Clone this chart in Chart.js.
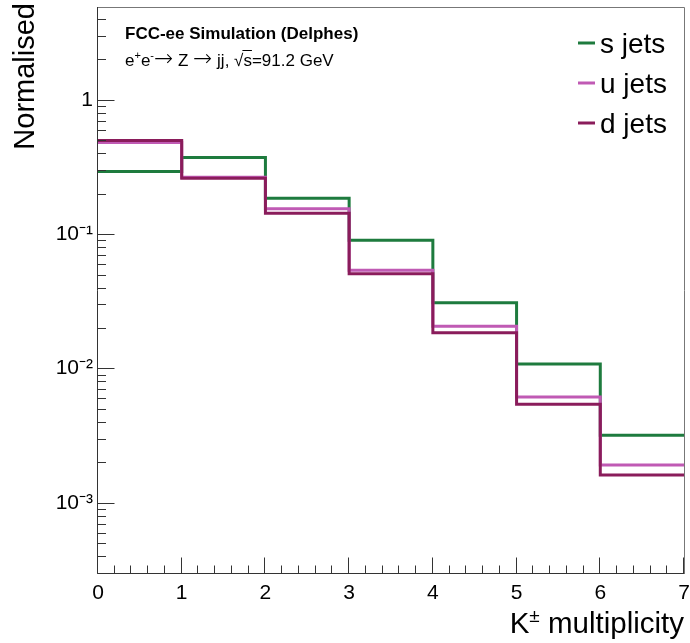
<!DOCTYPE html>
<html>
<head>
<meta charset="utf-8">
<script src="https://cdn.jsdelivr.net/npm/chart.js@4.4.1/dist/chart.umd.min.js"></script>
<style>
  body { margin: 0; background: #fff; }
  canvas { display: block; }
</style>
</head>
<body>
<canvas id="kaon-chart" width="690" height="643"></canvas>
<script>
// bin edges of the K± multiplicity histogram, one value per bin below
const binEdges = [0, 1, 2, 3, 4, 5, 6, 7];
const sJets = [0.292, 0.372, 0.185, 0.090, 0.0308, 0.0108, 0.00318];
const uJets = [0.480, 0.265, 0.154, 0.0537, 0.0206, 0.00612, 0.00191];
const dJets = [0.498, 0.260, 0.143, 0.0506, 0.0184, 0.0054, 0.00161];
const seriesNames = ['s jets', 'u jets', 'd jets'];
const seriesColors = ['#1e7b3e', '#c05ab4', '#8a1c5b'];
const yMin = 3.1e-4;
const yMax = 4.9;

const FONT = "'Liberation Sans', Arial, Helvetica, sans-serif";
const ARROW_FONT = "'DejaVu Sans ExtraLight', 'DejaVu Sans', sans-serif";
const canvas = document.getElementById('kaon-chart');

// histogram -> stepped points, last bin repeated at the right edge
function toSteps(values) {
  const pts = values.map((v, i) => ({ x: binEdges[i], y: v }));
  pts.push({ x: binEdges[binEdges.length - 1], y: values[values.length - 1] });
  return pts;
}

function supLabel(v) {
  const e = Math.round(Math.log10(v));
  if (Math.abs(Math.log10(v) - e) > 1e-6) return '';
  if (e === 0) return '1';
  const sup = { '-': '\u207B', '0': '\u2070', '1': '\u00B9', '2': '\u00B2', '3': '\u00B3', '4': '\u2074' };
  return '10' + String(e).split('').map(c => sup[c]).join('');
}

// text with raised / smaller pieces
function drawPieces(ctx, pieces, x, y, align) {
  let total = 0;
  pieces.forEach(p => { ctx.font = p.font; p.w = ctx.measureText(p.text).width; total += p.w; });
  let cx = align === 'right' ? x - total : x;
  pieces.forEach(p => {
    ctx.font = p.font;
    ctx.fillText(p.text, cx, y - (p.rise || 0));
    p.x = cx;
    cx += p.w;
  });
  return pieces;
}

const decorations = {
  id: 'decorations',
  afterDraw(chart) {
    const { ctx, chartArea: a, scales: { x, y } } = chart;
    ctx.save();

    // frame
    ctx.lineWidth = 1;
    ctx.strokeStyle = '#777';
    ctx.beginPath();
    ctx.moveTo(a.left - 0.5, a.top + 0.5);
    ctx.lineTo(a.right + 0.5, a.top + 0.5);
    ctx.lineTo(a.right + 0.5, a.bottom + 0.5);
    ctx.stroke();
    ctx.strokeStyle = '#333';
    ctx.beginPath();
    ctx.moveTo(a.left - 0.5, a.top);
    ctx.lineTo(a.left - 0.5, a.bottom + 0.5);
    ctx.lineTo(a.right + 0.5, a.bottom + 0.5);
    ctx.stroke();

    // inward ticks on the log axis
    ctx.beginPath();
    for (let e = -4; e <= 0; e++) {
      for (let m = 1; m <= 9; m++) {
        const v = m * Math.pow(10, e);
        if (v < y.min || v > y.max) continue;
        const py = Math.round(y.getPixelForValue(v)) + 0.5;
        const len = m === 1 ? 17 : 8.5;
        ctx.moveTo(a.left - 0.5, py);
        ctx.lineTo(a.left - 0.5 + len, py);
      }
    }
    // inward ticks on x, five minor divisions per unit
    for (let i = 0; i <= 35; i++) {
      const px = Math.round(x.getPixelForValue(i / 5)) - 0.5;
      const len = i % 5 === 0 ? 16 : 8;
      ctx.moveTo(px, a.bottom + 0.5);
      ctx.lineTo(px, a.bottom + 0.5 - len);
    }
    ctx.stroke();

    ctx.fillStyle = '#000';
    ctx.textBaseline = 'alphabetic';
    ctx.textAlign = 'left';

    // axis titles
    drawPieces(ctx, [
      { text: 'K', font: `29.5px ${FONT}` },
      { text: '\u00B1', font: `19px ${FONT}`, rise: 11 },
      { text: ' multiplicity', font: `29.5px ${FONT}` }
    ], a.right, 633, 'right');

    ctx.save();
    ctx.translate(34, 3);
    ctx.rotate(-Math.PI / 2);
    ctx.textAlign = 'right';
    ctx.font = `29px ${FONT}`;
    ctx.fillText('Normalised', 0, 0);
    ctx.restore();

    // labels inside the frame
    ctx.font = `bold 17px ${FONT}`;
    ctx.fillText('FCC-ee Simulation (Delphes)', 125, 39);
    const big = `17px ${FONT}`;
    const small = `11px ${FONT}`;
    const arrow = `200 23px ${ARROW_FONT}`;
    const parts = drawPieces(ctx, [
      { text: 'e', font: big },
      { text: '+', font: small, rise: 7 },
      { text: 'e', font: big },
      { text: '-', font: small, rise: 7 },
      { text: '\u2192', font: arrow, rise: 0 },
      { text: ' Z ', font: big },
      { text: '\u2192', font: arrow, rise: 0 },
      { text: ' jj, \u221A', font: big },
      { text: 's', font: big },
      { text: '=91.2 GeV', font: big }
    ], 125, 66, 'left');
    const sPart = parts[8];
    ctx.lineWidth = 1;
    ctx.strokeStyle = '#000';
    ctx.beginPath();
    ctx.moveTo(sPart.x - 1, 50.5);
    ctx.lineTo(sPart.x + sPart.w, 50.5);
    ctx.stroke();

    // legend
    ctx.font = `28px ${FONT}`;
    seriesNames.forEach((name, i) => {
      const base = 53 + i * 40;
      ctx.strokeStyle = seriesColors[i];
      ctx.lineWidth = 3;
      ctx.beginPath();
      ctx.moveTo(578, base - 10);
      ctx.lineTo(595, base - 10);
      ctx.stroke();
      ctx.fillStyle = '#000';
      ctx.fillText(name, 600, base);
    });

    ctx.restore();
  }
};

const seriesValues = [sJets, uJets, dJets];

new Chart(canvas, {
  type: 'line',
  data: {
    datasets: seriesValues.map((vals, i) => ({
      label: seriesNames[i],
      data: toSteps(vals),
      borderColor: seriesColors[i],
      borderWidth: 3,
      pointRadius: 0,
      fill: false,
      stepped: 'before',
      order: 3 - i
    }))
  },
  options: {
    responsive: false,
    devicePixelRatio: 1,
    animation: false,
    layout: { padding: { top: 7, right: 6, left: 0, bottom: 0 } },
    plugins: { legend: { display: false }, tooltip: { enabled: false } },
    scales: {
      x: {
        type: 'linear',
        min: 0,
        max: 7,
        afterFit: s => { s.height = 70; s.paddingLeft = 0; s.paddingRight = 0; },
        grid: { display: false, drawTicks: false },
        border: { display: false },
        ticks: {
          stepSize: 1,
          padding: 8,
          color: '#000',
          font: { family: FONT, size: 21 }
        }
      },
      y: {
        type: 'logarithmic',
        min: yMin,
        max: yMax,
        afterFit: s => { s.width = 98; s.paddingTop = 0; s.paddingBottom = 0; },
        grid: { display: false, drawTicks: false },
        border: { display: false },
        ticks: {
          autoSkip: false,
          padding: 5,
          color: '#000',
          font: { family: FONT, size: 21 },
          callback: v => supLabel(v)
        }
      }
    }
  },
  plugins: [decorations]
});
</script>
</body>
</html>
